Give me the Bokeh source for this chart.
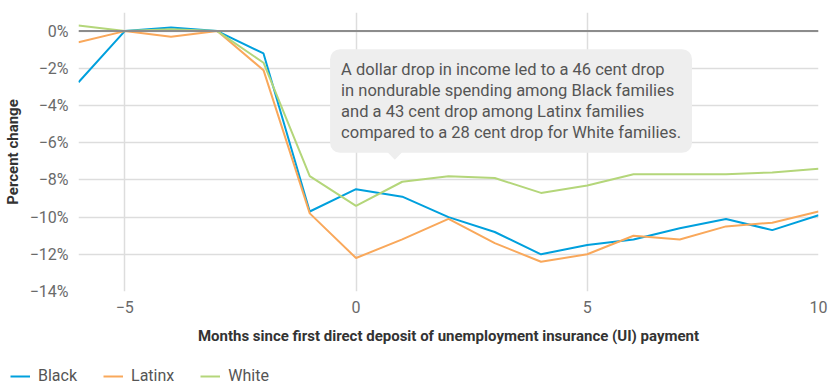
from bokeh.plotting import figure
from bokeh.layouts import column
from bokeh.models import Range1d, FixedTicker, Span, Label, Legend, LegendItem, ColumnDataSource
from bokeh.embed import file_html
from bokeh.resources import INLINE

months = [-6, -5, -4, -3, -2, -1, 0, 1, 2, 3, 4, 5, 6, 7, 8, 9, 10]
black = [-2.75, 0.0, 0.2, 0.0, -1.2, -9.7, -8.5, -8.9, -10.0, -10.8, -12.0, -11.5, -11.2, -10.6, -10.1, -10.7, -9.9]
latinx = [-0.6, 0.0, -0.3, 0.0, -2.1, -9.8, -12.2, -11.2, -10.1, -11.4, -12.4, -12.0, -11.0, -11.2, -10.5, -10.3, -9.7]
white = [0.3, 0.0, 0.1, 0.0, -1.7, -7.8, -9.4, -8.1, -7.8, -7.9, -8.7, -8.3, -7.7, -7.7, -7.7, -7.6, -7.4]
series_names = ["Black", "Latinx", "White"]
series_colors = ["#00a0dd", "#f9a85b", "#b4d67a"]
y_ticks = [-14, -12, -10, -8, -6, -4, -2, 0]
x_ticks = [-5, 0, 5, 10]
note_text = ("A dollar drop in income led to a 46 cent drop\n"
             "in nondurable spending among Black families\n"
             "and a 43 cent drop among Latinx families\n"
             "compared to a 28 cent drop for White families.")

FONT = "Roboto"

p = figure(width=833, height=355, output_backend="svg", toolbar_location=None,
           x_range=Range1d(-6, 10), y_range=Range1d(-14, 1),
           min_border_left=78, min_border_right=15, min_border_top=12, min_border_bottom=64)
p.outline_line_color = None
p.background_fill_color = "white"
p.border_fill_color = "white"
p.frame_align = False

# axes
p.yaxis.ticker = FixedTicker(ticks=y_ticks)
p.yaxis.major_label_overrides = {t: ("0%" if t == 0 else "\u2212%d%%" % abs(t)) for t in y_ticks}
p.xaxis.ticker = FixedTicker(ticks=x_ticks)
p.xaxis.major_label_overrides = {t: ("\u2212%d" % abs(t) if t < 0 else str(t)) for t in x_ticks}
for ax in (p.xaxis, p.yaxis):
    ax.axis_line_color = None
    ax.major_tick_line_color = None
    ax.minor_tick_line_color = None
    ax.major_tick_out = 0
    ax.major_tick_in = 0
    ax.minor_tick_out = 0
    ax.major_label_text_font = FONT
    ax.major_label_text_font_size = "16px"
    ax.major_label_text_color = "#6a6a6a"
    ax.axis_label_text_font = FONT
    ax.axis_label_text_font_size = "15px"
    ax.axis_label_text_font_style = "bold"
    ax.axis_label_text_color = "#333333"
p.yaxis.axis_label = "Percent change"
p.xaxis.axis_label = "Months since first direct deposit of unemployment insurance (UI) payment"
p.yaxis.major_label_standoff = 10
p.xaxis.major_label_standoff = 9
p.xaxis.axis_label_standoff = 11
p.yaxis.axis_label_standoff = 5

p.xgrid.ticker = FixedTicker(ticks=x_ticks)
p.ygrid.ticker = FixedTicker(ticks=y_ticks)
p.xgrid.grid_line_color = "#dddddd"
p.ygrid.grid_line_color = "#dddddd"
p.xgrid.grid_line_width = 1.5
p.ygrid.grid_line_width = 1.5

p.add_layout(Span(location=0, dimension="width", line_color="#8c8c8c", line_width=2))

sources = []
for vals in [black, latinx, white]:
    sources.append(ColumnDataSource(dict(x=months, y=vals)))
for src, col in zip(sources, series_colors):
    p.line("x", "y", source=src, line_color=col, line_width=2)

# annotation callout
note = Label(x=-0.56, y=-0.97, x_units="data", y_units="data", text=note_text,
             text_font=FONT, text_font_size="16.5px", text_color="#555555",
             text_line_height=1.1, anchor="top_left",
             background_fill_color="#eeeeee", background_fill_alpha=1.0,
             border_radius=10, padding=11)
p.add_layout(note)
p.patch(x=[0.62, 1.06, 0.84], y=[-6.35, -6.35, -6.92], fill_color="#eeeeee", line_color=None)

# legend strip (separate small figure; its lines sit outside its visible range)
lg = figure(width=833, height=30, output_backend="svg", toolbar_location=None,
            x_range=Range1d(1000, 1001), y_range=Range1d(1000, 1001),
            x_axis_location=None, y_axis_location=None,
            min_border_left=0, min_border_right=0, min_border_top=0, min_border_bottom=0)
lg.outline_line_color = None
lg.xgrid.visible = False
lg.ygrid.visible = False
lg.frame_align = False
items = []
for name, src, col in zip(series_names, sources, series_colors):
    r = lg.line("x", "y", source=src, line_color=col, line_width=2)
    items.append(LegendItem(label=name, renderers=[r]))
legend = Legend(items=items, orientation="horizontal", location=(10, 0),
                label_text_font=FONT, label_text_font_size="16px", label_text_color="#555555",
                glyph_width=20, glyph_height=16, label_standoff=8, spacing=26,
                label_height=16, padding=0, margin=0, border_line_color=None,
                background_fill_alpha=0)
lg.add_layout(legend)

layout = column(p, lg, spacing=0)
open("out.html", "w").write(file_html(layout, INLINE))
